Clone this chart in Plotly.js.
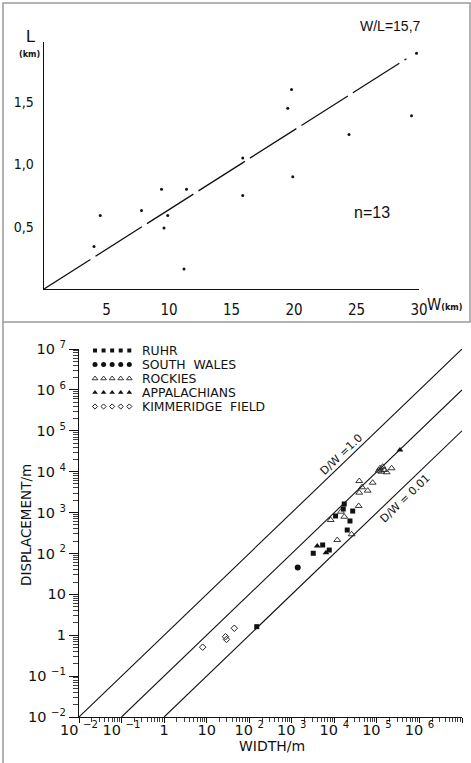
<!DOCTYPE html>
<html><head><meta charset="utf-8">
<script src="https://cdn.plot.ly/plotly-3.0.1.min.js"></script>
<style>html,body{margin:0;padding:0;background:#fff;}#chart{width:471px;height:763px;}</style>
</head><body><div id="chart"></div>
<script>
// ---------- top panel data ----------
const topW = [4.0, 4.5, 7.8, 9.4, 9.6, 9.9, 11.2, 11.4, 15.9, 15.9, 19.5, 19.8, 19.9, 24.4, 29.4, 29.8];
const topL = [0.34, 0.59, 0.63, 0.80, 0.49, 0.59, 0.16, 0.80, 1.05, 0.75, 1.45, 1.60, 0.90, 1.24, 1.39, 1.89];
const ratioWL = 15.7;
const fitW = [0, 29];
const topXTicks = [5, 10, 15, 20, 25, 30];
const topXTickText = ['5', '10', '15', '20', '25', '30'];
const topYTicks = [0.5, 1.0, 1.5];
const topYTickText = ['0,5', '1,0', '1,5'];

// ---------- bottom panel data ----------
const ruhrW = [150, 3200, 5320, 7600, 10700, 16200, 17100, 27000, 23300, 20100];
const ruhrD = [1.62, 101, 161, 121, 824, 1220, 1620, 1090, 622, 374];
const walesW = [1380];
const walesD = [45];
const rockiesW = [38500, 79600, 44600, 60700, 38500, 37300, 14300, 17100, 8200, 11700, 25500, 118000, 137000, 147000, 127000, 170000, 110000, 222000];
const rockiesD = [5900, 5370, 4150, 3430, 3060, 1450, 1050, 790, 658, 213, 294, 12100, 13200, 11000, 9980, 9660, 10600, 12100];
const appW = [3970, 6370, 348000];
const appD = [152, 104, 33900];
const kimW = [8.05, 27.7, 29.2, 44.6];
const kimD = [0.51, 0.92, 0.79, 1.48];
const dwRatios = [1.0, 0.1, 0.01];
const dwLabels = ['D/W =1.0', 'D/W = 0.01'];
const legendNames = ['RUHR', 'SOUTH\u00a0 WALES', 'ROCKIES', 'APPALACHIANS', 'KIMMERIDGE\u00a0 FIELD'];
const logTickVals = [1e-2, 1e-1, 1, 10, 1e2, 1e3, 1e4, 1e5, 1e6, 1e7];
const xLogTickText = ['10 <sup>\u22122</sup>', '10 <sup>\u22121</sup>', '1', '10', '10 <sup>2</sup>', '10 <sup>3</sup>', '10 <sup>4</sup>', '10 <sup>5</sup>', '10 <sup>6</sup>', '10'];
const yLogTickText = ['10 <sup>\u22122</sup>', '10 <sup>\u22121</sup>', '1', '10', '10 <sup>2</sup>', '10 <sup>3</sup>', '10 <sup>4</sup>', '10 <sup>5</sup>', '10 <sup>6</sup>', '10 <sup>7</sup>'];
const minorDigits = [2, 3, 4, 5, 6, 7, 8, 9];

// minor tick positions (2..9 within each decade)
const minorVals = [];
logTickVals.slice(0, -1).forEach(dec => minorDigits.forEach(m => minorVals.push(dec * m)));

// ---------- layout helpers ----------
const PW = 471, PH = 763;
const px = v => v / PW;
const py = v => 1 - v / PH;

const narrow = '"Liberation Sans Narrow", "Arial Narrow", "DejaVu Sans Condensed", sans-serif';
const arial = '"Liberation Sans", Arial, sans-serif';
const dvs = '"DejaVu Sans", sans-serif';

const traces = [];

// top: points
traces.push({x: topW, y: topL, xaxis: 'x', yaxis: 'y', type: 'scatter', mode: 'markers',
  marker: {color: '#111', size: 3, symbol: 'circle'}, cliponaxis: false, hoverinfo: 'skip'});
// top: W/L fit line
traces.push({x: fitW, y: fitW.map(w => w / ratioWL), xaxis: 'x', yaxis: 'y', type: 'scatter', mode: 'lines',
  line: {color: '#111', width: 1.3, dash: '55px,6px'}, hoverinfo: 'skip'});

// bottom: D/W lines
dwRatios.forEach(r => {
  traces.push({x: [1e-2 / r, 1e7], y: [1e-2, 1e7 * r], xaxis: 'x2', yaxis: 'y2', type: 'scatter', mode: 'lines',
    line: {color: '#111', width: 1.1}, hoverinfo: 'skip'});
});

const series = [
  {w: ruhrW, d: ruhrD, symbol: 'square', size: 5, color: '#111', line: 0},
  {w: walesW, d: walesD, symbol: 'circle', size: 6, color: '#111', line: 0},
  {w: rockiesW, d: rockiesD, symbol: 'triangle-up-open', size: 6, color: '#222', line: 0.9},
  {w: appW, d: appD, symbol: 'triangle-up', size: 6, color: '#111', line: 0},
  {w: kimW, d: kimD, symbol: 'diamond-open', size: 5, color: '#222', line: 1}
];
series.forEach(s => {
  traces.push({x: s.w, y: s.d, xaxis: 'x2', yaxis: 'y2', type: 'scatter', mode: 'markers',
    marker: {symbol: s.symbol, size: s.size, color: s.color, line: {width: s.line, color: s.color}},
    hoverinfo: 'skip'});
});

// legend key (auxiliary axes)
series.forEach((s, i) => {
  traces.push({x: [0, 1, 2, 3, 4], y: [i, i, i, i, i], xaxis: 'x3', yaxis: 'y3', type: 'scatter', mode: 'markers',
    marker: {symbol: s.symbol, size: s.size - 1, color: s.color, line: {width: s.line, color: s.color}},
    cliponaxis: false, hoverinfo: 'skip'});
});

function note(text, x, y, size, family, extra) {
  return Object.assign({text: text, xref: 'paper', yref: 'paper', x: px(x), y: py(y), xanchor: 'center', yanchor: 'middle',
    showarrow: false, font: {family: family, size: size, color: '#111'}}, extra || {});
}

const annotations = [
  note('W/L=15,7', 390, 26, 14, arial),
  note('n=13', 372, 213, 16, arial),
  note('L', 30, 37, 17, arial),
  note('<b>(km)</b>', 29, 54, 9, narrow),
  note('W<span style="font-size:9px"><b>(km)</b></span>', 425, 305, 16, narrow, {xanchor: 'left'}),
  note('DISPLACEMENT/m', 26, 525, 13.5, dvs, {textangle: -90}),
  note('WIDTH/m', 272, 746, 14, dvs),
  {text: dwLabels[0], xref: 'x2', yref: 'y2', x: 4.17, y: 4.41, xanchor: 'center', yanchor: 'middle', textangle: -44, showarrow: false,
   font: {family: dvs, size: 11, color: '#111'}},
  {text: dwLabels[1], xref: 'x2', yref: 'y2', x: 5.66, y: 3.35, xanchor: 'center', yanchor: 'middle', textangle: -44, showarrow: false,
   font: {family: dvs, size: 11, color: '#111'}}
];
legendNames.forEach((n, i) => {
  annotations.push({text: n, xref: 'x3', yref: 'y3', x: 4, y: i, xanchor: 'left', yanchor: 'middle', xshift: 11, showarrow: false,
    font: {family: dvs, size: 12.4, color: '#111'}});
});

const shapes = [
  {type: 'rect', xref: 'paper', yref: 'paper', x0: px(3), x1: px(470), y0: py(3), y1: py(322),
   line: {color: '#9a9a9a', width: 1.5}},
  {type: 'line', xref: 'paper', yref: 'paper', x0: px(3), x1: px(3), y0: py(322), y1: py(763),
   line: {color: '#9a9a9a', width: 1.5}}
];

const layout = {
  width: PW, height: PH,
  margin: {l: 0, r: 0, t: 0, b: 0},
  paper_bgcolor: '#fff', plot_bgcolor: 'rgba(0,0,0,0)',
  showlegend: false,
  xaxis: {domain: [px(44), px(419)], range: [0, 30], anchor: 'y', showgrid: false, zeroline: false,
    showline: true, linecolor: '#111', linewidth: 1.3,
    tickmode: 'array', tickvals: topXTicks, ticktext: topXTickText,
    ticks: 'outside', ticklen: 7, tickcolor: 'rgba(0,0,0,0)',
    tickfont: {family: narrow, size: 15, color: '#111'}},
  yaxis: {domain: [py(289), py(42)], range: [0, 1.981], anchor: 'x', showgrid: false, zeroline: false,
    showline: true, linecolor: '#111', linewidth: 1.3,
    tickmode: 'array', tickvals: topYTicks, ticktext: topYTickText,
    ticks: 'outside', ticklen: 6, tickcolor: 'rgba(0,0,0,0)',
    tickfont: {family: narrow, size: 14, color: '#111'}},
  xaxis2: {type: 'log', domain: [px(79), px(462)], range: [-2, 7], anchor: 'y2', showgrid: false, zeroline: false,
    showline: true, linecolor: '#111', linewidth: 1.1,
    tickmode: 'array', tickvals: logTickVals, ticktext: xLogTickText,
    ticks: 'outside', ticklen: 5, tickwidth: 1, tickcolor: '#111', ticklabelstandoff: -6,
    minor: {tickmode: 'array', tickvals: minorVals, ticks: 'outside', ticklen: 4, tickwidth: 0.8, tickcolor: '#111', showgrid: false},
    tickfont: {family: dvs, size: 14.5, color: '#111'}},
  yaxis2: {type: 'log', domain: [py(717), py(349)], range: [-2, 7], anchor: 'x2', showgrid: false, zeroline: false,
    showline: true, linecolor: '#111', linewidth: 1.1,
    tickmode: 'array', tickvals: logTickVals, ticktext: yLogTickText,
    ticks: 'outside', ticklen: 9, tickwidth: 1, tickcolor: '#111',
    minor: {tickmode: 'array', tickvals: minorVals, ticks: 'outside', ticklen: 5, tickwidth: 0.8, tickcolor: '#111', showgrid: false},
    tickfont: {family: dvs, size: 14.5, color: '#111'}},
  xaxis3: {domain: [px(95), px(129.3)], range: [0, 4], anchor: 'y3', visible: false, fixedrange: true},
  yaxis3: {domain: [py(406.5), py(350.5)], range: [4, 0], anchor: 'x3', visible: false, fixedrange: true},
  annotations: annotations,
  shapes: shapes
};

Plotly.newPlot('chart', traces, layout, {staticPlot: true, displayModeBar: false});
</script>
</body></html>
